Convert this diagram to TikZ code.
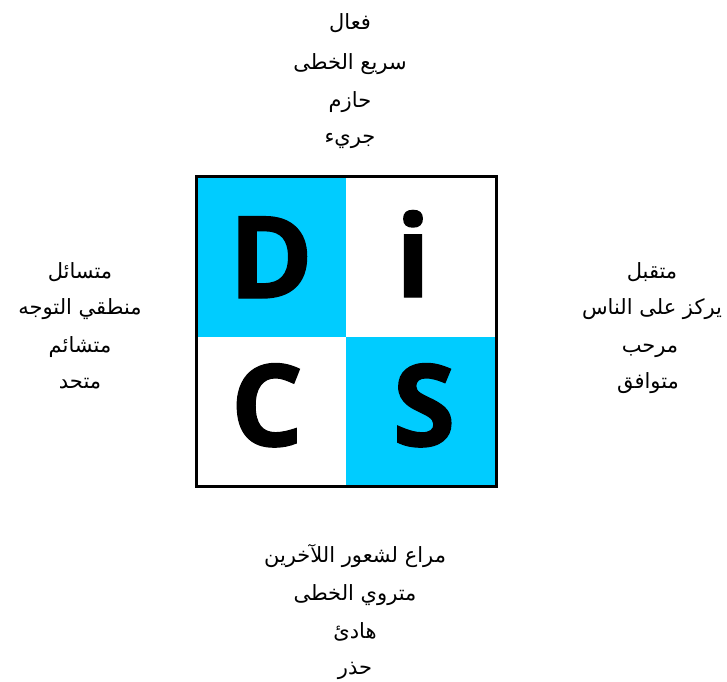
\documentclass[tikz,border=0pt]{standalone}
\usepackage{fontspec}
\TeXXeTstate=1
\newfontfamily\arabicfont[Script=Arabic]{DejaVu Sans}
\newfontfamily\letterfont{Open Sans}[BoldFeatures={FakeBold=1.2}]
\definecolor{discyan}{HTML}{00CCFF}
\tikzset{
  ar/.style={font=\arabicfont\fontsize{21}{24}\selectfont, text=black, inner sep=0pt, anchor=base},
  big/.style={font=\letterfont\bfseries\fontsize{114}{114}\selectfont, text=black, inner sep=0pt, anchor=base},
}
\begin{document}
\begin{tikzpicture}[x=1pt,y=-1pt]
\useasboundingbox (0,0) rectangle (727,681);
\clip (0,0) rectangle (727,681);
% quadrants
\fill[discyan] (196,176) rectangle (346,337);
\fill[white] (346,176) rectangle (496,337);
\fill[white] (196,337) rectangle (346,486);
\fill[discyan] (346,337) rectangle (496,486);
\draw[line width=3pt] (196,176) rectangle (496,486);
% letters
\node[big] (D) at (271,298) {D};
\node[big] (i) at (413,297) {i};
\node[big] (C) at (267,446) {C};
\node[big] (S) at (424,446) {S};
% top
\node[ar] (t1) at (350,29) {\beginR فعال\endR};
\node[ar] (t2) at (350,69) {\beginR سريع الخطى\endR};
\node[ar] (t3) at (350,107) {\beginR حازم\endR};
\node[ar] (t4) at (350,143) {\beginR جريء\endR};
% left
\node[ar] (l1) at (80,278) {\beginR متسائل\endR};
\node[ar] (l2) at (80,314) {\beginR منطقي التوجه\endR};
\node[ar] (l3) at (80,352) {\beginR متشائم\endR};
\node[ar] (l4) at (80,388) {\beginR متحد\endR};
% right
\node[ar] (r1) at (652,278) {\beginR متقبل\endR};
\node[ar] (r2) at (652,314) {\beginR يركز على الناس\endR};
\node[ar] (r3) at (650,352) {\beginR مرحب\endR};
\node[ar] (r4) at (648,388) {\beginR متوافق\endR};
% bottom
\node[ar] (b1) at (355,562) {\beginR مراع لشعور اللآخرين\endR};
\node[ar] (b2) at (355,600) {\beginR متروي الخطى\endR};
\node[ar] (b3) at (355,638) {\beginR هادئ\endR};
\node[ar] (b4) at (355,674) {\beginR حذر\endR};
\end{tikzpicture}
\end{document}
